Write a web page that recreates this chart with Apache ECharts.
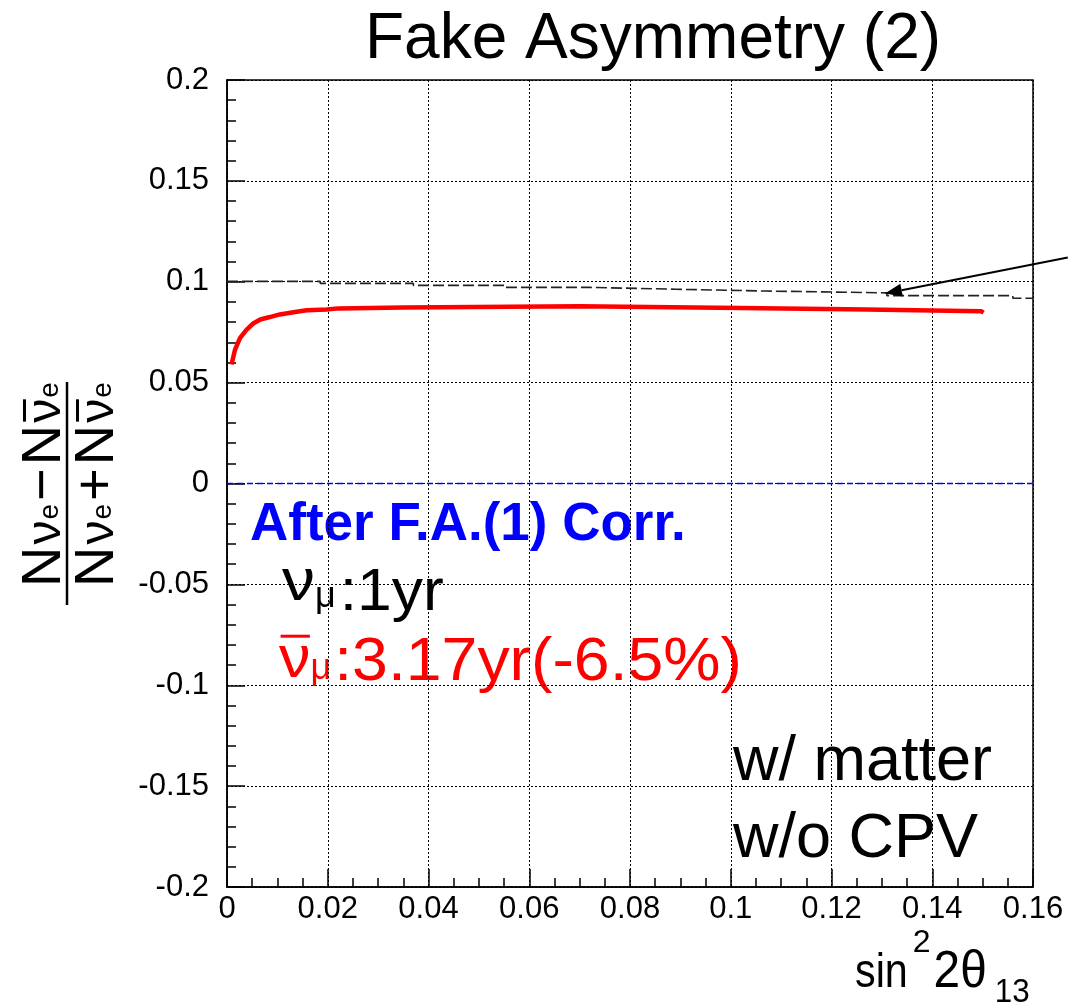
<!DOCTYPE html>
<html>
<head>
<meta charset="utf-8">
<script src="https://cdn.jsdelivr.net/npm/echarts@6/dist/echarts.min.js"></script>
<style>
html,body{margin:0;padding:0;background:#fff;}
#chart{width:1070px;height:1005px;}
</style>
</head>
<body>
<div id="chart"></div>
<script>
// ---- data ----
const titleText = 'Fake Asymmetry (2)';
const xTickValues = [0, 0.02, 0.04, 0.06, 0.08, 0.1, 0.12, 0.14, 0.16];
const xTickLabels = ['0', '0.02', '0.04', '0.06', '0.08', '0.1', '0.12', '0.14', '0.16'];
const yTickValues = [-0.2, -0.15, -0.1, -0.05, 0, 0.05, 0.1, 0.15, 0.2];
const yTickLabels = ['-0.2', '-0.15', '-0.1', '-0.05', '0', '0.05', '0.1', '0.15', '0.2'];

// red curve: after F.A.(1) correction
const redX = [0.0009, 0.0016, 0.0026, 0.0039, 0.0052, 0.0066, 0.0085, 0.0105, 0.0132, 0.0158, 0.0198, 0.0221, 0.035, 0.0352, 0.070, 0.0702, 0.102, 0.1022, 0.127, 0.1272, 0.1497, 0.1502];
const redY = [0.059, 0.0664, 0.0722, 0.0763, 0.0793, 0.0813, 0.0825, 0.0838, 0.0849, 0.0859, 0.0863, 0.0868, 0.0872, 0.0879, 0.0879, 0.0871, 0.0870, 0.0862, 0.0862, 0.0854, 0.0854, 0.0847];

// black dashed curve (before correction)
const dashX = [0, 0.0185, 0.037, 0.055, 0.072, 0.089, 0.107, 0.131, 0.156, 0.16];
const dashY = [0.1002, 0.0992, 0.0982, 0.0972, 0.0963, 0.0954, 0.0945, 0.0931, 0.0918, 0.0918];

// blue zero reference line
const zeroX = [0, 0.16];
const zeroY = [0, 0];

// annotation arrow (from, to) in data units
const arrowFrom = [0.1669, 0.1120];
const arrowTo = [0.1306, 0.0942];

// ---- text layout helpers ----
const FONT = '"Liberation Sans", Arial, Helvetica, sans-serif';
const mctx = document.createElement('canvas').getContext('2d');
function fontStr(s, w) { return (w || 'normal') + ' ' + s + 'px ' + FONT; }
function midToBase(s, w) {
  mctx.font = fontStr(s, w);
  mctx.textBaseline = 'middle';
  return mctx.measureText('H').actualBoundingBoxDescent;
}
function textW(t, s, w) {
  mctx.font = fontStr(s, w);
  mctx.textBaseline = 'alphabetic';
  return mctx.measureText(t).width;
}
// pieces laid out along a common baseline at local y = 0
function run(pieces, fill) {
  const kids = [];
  let x = 0;
  pieces.forEach(p => {
    x += p.gap || 0;
    const sx = p.sx || 1;
    const w = textW(p.t, p.s, p.w) * sx;
    const dy = p.dy || 0;
    kids.push({
      type: 'text', x: x, y: dy - midToBase(p.s, p.w), scaleX: sx,
      style: {text: p.t, fontSize: p.s, fontFamily: FONT, fontWeight: p.w || 'normal',
              fill: p.fill || fill, align: 'left', verticalAlign: 'middle'}
    });
    if (p.bar) {
      const by = dy - p.bar * p.s;
      kids.push({type: 'line', shape: {x1: x + w * 0.05, y1: by, x2: x + w * 0.98, y2: by},
                 style: {stroke: p.fill || fill, lineWidth: 3}});
    }
    x += w;
  });
  return kids;
}

function fracPieces(op) {
  return [
    {t: 'N', s: 56},
    {t: 'ν', s: 48, gap: 2},
    {t: 'e', s: 28, gap: 1, dy: -2},
    {t: op, s: 56, gap: 3},
    {t: 'N', s: 56, gap: 3},
    {t: 'ν', s: 48, gap: 2, bar: 0.74},
    {t: 'e', s: 28, gap: 1, dy: -2}
  ];
}

// ---- chart ----
const chart = echarts.init(document.getElementById('chart'), null, {renderer: 'canvas'});

function lookup(vals, labels, v) {
  const i = vals.findIndex(t => Math.abs(t - v) < 1e-9);
  return i >= 0 ? labels[i] : '';
}
const zip = (a, b) => a.map((v, i) => [v, b[i]]);

const option = {
  backgroundColor: '#ffffff',
  animation: false,
  title: {
    text: titleText,
    left: 365,
    top: 8,
    padding: 0,
    textStyle: {fontFamily: FONT, fontSize: 64, fontWeight: 'normal', color: '#000'}
  },
  grid: {
    left: 227, top: 80, width: 806, height: 807,
    show: true, borderColor: '#000', borderWidth: 1.5, backgroundColor: 'transparent'
  },
  xAxis: {
    type: 'value', min: 0, max: 0.16, interval: 0.02,
    axisLine: {show: true, onZero: false, lineStyle: {color: '#000', width: 1.5}},
    axisTick: {show: true, inside: true, length: 18, lineStyle: {color: '#000', width: 1.5}},
    minorTick: {show: true, splitNumber: 4, length: 9, lineStyle: {color: '#000', width: 1.5}},
    splitLine: {show: true, lineStyle: {color: '#000', width: 1, type: [2, 2]}},
    axisLabel: {
      margin: 7, fontFamily: FONT, fontSize: 31, color: '#000',
      formatter: v => lookup(xTickValues, xTickLabels, v)
    }
  },
  yAxis: {
    type: 'value', min: -0.2, max: 0.2, interval: 0.05,
    axisLine: {show: true, onZero: false, lineStyle: {color: '#000', width: 1.5}},
    axisTick: {show: true, inside: true, length: 18, lineStyle: {color: '#000', width: 1.5}},
    minorTick: {show: true, splitNumber: 5, length: 9, lineStyle: {color: '#000', width: 1.5}},
    splitLine: {show: true, lineStyle: {color: '#000', width: 1, type: [2, 2]}},
    axisLabel: {
      margin: 18, fontFamily: FONT, fontSize: 31, color: '#000',
      formatter: v => lookup(yTickValues, yTickLabels, v)
    }
  },
  series: [
    {
      name: 'zero', type: 'line', data: zip(zeroX, zeroY), showSymbol: false, symbol: 'none',
      lineStyle: {color: '#0000ff', width: 1.5, type: [6, 4]}, z: 3
    },
    {
      name: 'before', type: 'line', data: zip(dashX, dashY), step: 'end', showSymbol: false, symbol: 'none',
      lineStyle: {color: '#222', width: 1.6, type: [11, 4]}, z: 4
    },
    {
      name: 'after', type: 'line', data: zip(redX, redY), showSymbol: false, symbol: 'none',
      lineStyle: {color: '#ff0000', width: 4.5}, z: 5
    },
    {
      name: 'arrow', type: 'custom', clip: false, z: 6,
      data: [[arrowFrom[0], arrowFrom[1], arrowTo[0], arrowTo[1]]],
      renderItem: function (params, api) {
        const p1 = api.coord([api.value(0), api.value(1)]);
        const p2 = api.coord([api.value(2), api.value(3)]);
        const dx = p2[0] - p1[0], dy = p2[1] - p1[1];
        const L = Math.sqrt(dx * dx + dy * dy);
        const ux = dx / L, uy = dy / L;
        const hl = 17, hw = 6.5;
        const bx = p2[0] - ux * hl, by = p2[1] - uy * hl;
        return {
          type: 'group',
          children: [
            {type: 'line', shape: {x1: p1[0], y1: p1[1], x2: bx, y2: by}, style: {stroke: '#000', lineWidth: 2}},
            {type: 'polygon', shape: {points: [[p2[0], p2[1]], [bx - uy * hw, by + ux * hw], [bx + uy * hw, by - ux * hw]]}, style: {fill: '#000'}}
          ]
        };
      }
    }
  ],
  graphic: [
    // y-axis title: fraction, rotated to read bottom-to-top
    {
      type: 'group', x: 0, y: 587, rotation: Math.PI / 2,
      children: [
        {type: 'group', x: 0, y: 60, children: run(fracPieces('−'), '#000')},
        {type: 'line', shape: {x1: -18, y1: 67, x2: 205, y2: 67}, style: {stroke: '#000', lineWidth: 2.5}},
        {type: 'group', x: 0, y: 113, children: run(fracPieces('+'), '#000')}
      ]
    },
    // x-axis title
    {
      type: 'group', x: 855, y: 987,
      children: run([
        {t: 'sin', s: 48, sx: 0.86},
        {t: '2', s: 32, gap: 5, dy: -35},
        {t: '2θ', s: 52, gap: 3, sx: 0.92},
        {t: '13', s: 33, gap: 8, sx: 0.95, dy: 15}
      ], '#000')
    },
    // annotations
    {
      type: 'group', x: 250, y: 540,
      children: run([{t: 'After F.A.(1) Corr.', s: 53, w: 'bold'}], '#0000ff')
    },
    {
      type: 'group', x: 282, y: 610,
      children: run([
        {t: 'ν', s: 60, dy: -10, sx: 1.1},
        {t: 'μ', s: 36, gap: 0, dy: -3},
        {t: ':1yr', s: 60, gap: 4, sx: 1.04}
      ], '#000')
    },
    {
      type: 'group', x: 279, y: 680,
      children: run([
        {t: 'ν', s: 60, dy: -3, sx: 1.05, bar: 0.68},
        {t: 'μ', s: 36, gap: 0, dy: -1},
        {t: ':3.17yr(-6.5%)', s: 61, gap: 3, sx: 1.055}
      ], '#ff0000')
    },
    {
      type: 'group', x: 733, y: 780,
      children: run([{t: 'w/ matter', s: 63}], '#000')
    },
    {
      type: 'group', x: 733, y: 857,
      children: run([{t: 'w/o CPV', s: 63}], '#000')
    }
  ]
};
chart.setOption(option);
</script>
</body>
</html>
